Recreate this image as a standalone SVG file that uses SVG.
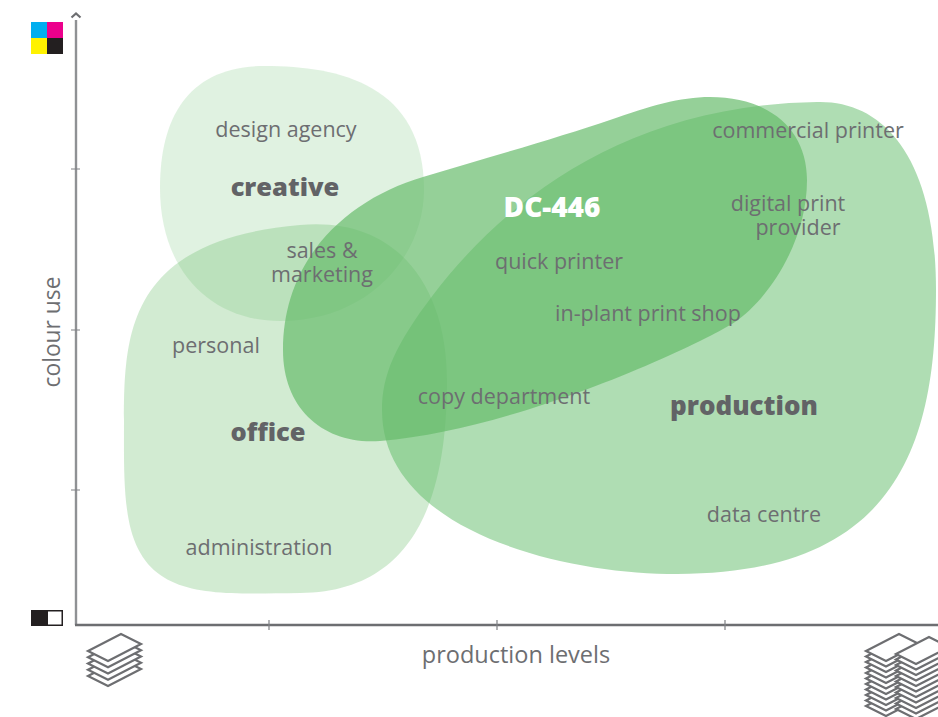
<svg xmlns="http://www.w3.org/2000/svg" width="938" height="717" viewBox="0 0 938 717">
<style>
text{font-family:"Open Sans","Noto Sans","Liberation Sans",sans-serif;fill:#6d6e71;font-size:21.500px;text-anchor:middle}
.b{font-weight:800;font-size:25.500px;fill:#626366}
.ax{fill:none;stroke-width:2.400}
.tk{fill:none;stroke:#808285;stroke-width:1.200}
.st{fill:#fff;stroke:#6d6e71;stroke-width:2.200;stroke-linejoin:miter}
</style>
<defs>
<path id="sheet" d="M0 0L33 -17L53 -7L20 10Z" class="st"/>
<g id="stack1"><use href="#sheet" y="25"/><use href="#sheet" y="18.750"/><use href="#sheet" y="12.500"/><use href="#sheet" y="6.250"/><use href="#sheet" y="0"/></g>
<g id="stack2"><use href="#sheet" y="55"/><use href="#sheet" y="49.500"/><use href="#sheet" y="44"/><use href="#sheet" y="38.500"/><use href="#sheet" y="33"/><use href="#sheet" y="27.500"/><use href="#sheet" y="22"/><use href="#sheet" y="16.500"/><use href="#sheet" y="11"/><use href="#sheet" y="5.500"/><use href="#sheet" y="0"/></g>
</defs>
<rect width="938" height="717" fill="#fff"/>
<g id="node-creative">
<path d="M160 188C160 115 190 66 265 66C340 66 424 85 424 190C424 255 370 321 280 321C210 321 160 270 160 188Z" fill="#5cb85f" opacity=".19"/>
</g>
<g id="node-office">
<path d="M124 420C124 330 130 240 300 225C400 216 447 290 447 380C447 480 425 592 300 593C215 594 150 600 131 530C123 500 124 460 124 420Z" fill="#5cb85f" opacity=".28"/>
</g>
<g id="node-production">
<path d="M382 410C382 375 395 345 433 295C500 207 620 105 817 102C885 100 936 160 936 290C936 440 900 574 677 574C560 574 382 530 382 410Z" fill="#58b860" opacity=".48"/>
</g>
<g id="node-dc446">
<path d="M283 350C283 260 345 200 423 177C490 157 560 137 610 120C650 106 680 97 710 97C770 97 807 130 807 180C807 245 765 302 735 322C705 342 520 430 380 441C325 445 283 410 283 350Z" fill="#65bb6a" opacity=".69"/>
</g>
<g id="connectors">
<path class="ax" stroke="#8f9194" d="M76 20V625"/>
<path class="ax" stroke="#6d6e71" d="M75 625H938"/>
<path d="M71.500 17.500L76 13.500L80.500 17.500" fill="none" stroke="#6d6e71" stroke-width="2.200"/>
<path class="tk" d="M71 169H80M71 330H80M71 490H80M269 620V630M497 620V630M725 620V630"/>
</g>
<g id="cmyk">
<rect x="31" y="22" width="16" height="16" fill="#00aeef"/>
<rect x="47" y="22" width="16" height="16" fill="#ec008c"/>
<rect x="31" y="38" width="16" height="16" fill="#fff200"/>
<rect x="47" y="38" width="16" height="16" fill="#231f20"/>
</g>
<g id="mono">
<rect x="31" y="610" width="32" height="16" fill="#231f20"/>
<rect x="48" y="611.500" width="13.500" height="13" fill="#fff"/>
</g>
<use id="stack-low" href="#stack1" x="88" y="651"/>
<g id="stack-high"><use href="#stack2" x="866" y="651"/><use href="#stack2" x="896" y="654"/></g>
<g id="labels">
<text x="286" y="137">design agency</text>
<text class="b" x="285" y="196">creative</text>
<text x="322" y="258">sales &amp;</text>
<text x="322" y="282">marketing</text>
<text x="216" y="353">personal</text>
<text class="b" x="268" y="441">office</text>
<text x="259" y="555">administration</text>
<text x="808" y="138">commercial printer</text>
<text class="b" x="552" y="217" style="fill:#fff;font-size:28px">DC-446</text>
<text x="788" y="211">digital print</text>
<text x="798" y="235">provider</text>
<text x="559" y="269">quick printer</text>
<text x="648" y="321">in-plant print shop</text>
<text x="504" y="404">copy department</text>
<text class="b" x="744" y="415" style="font-size:26px">production</text>
<text x="764" y="522">data centre</text>
<text x="516" y="663" style="font-size:23.500px">production levels</text>
<text x="60" y="332" transform="rotate(-90 60 332)" style="font-size:22.800px">colour use</text>
</g>
</svg>
